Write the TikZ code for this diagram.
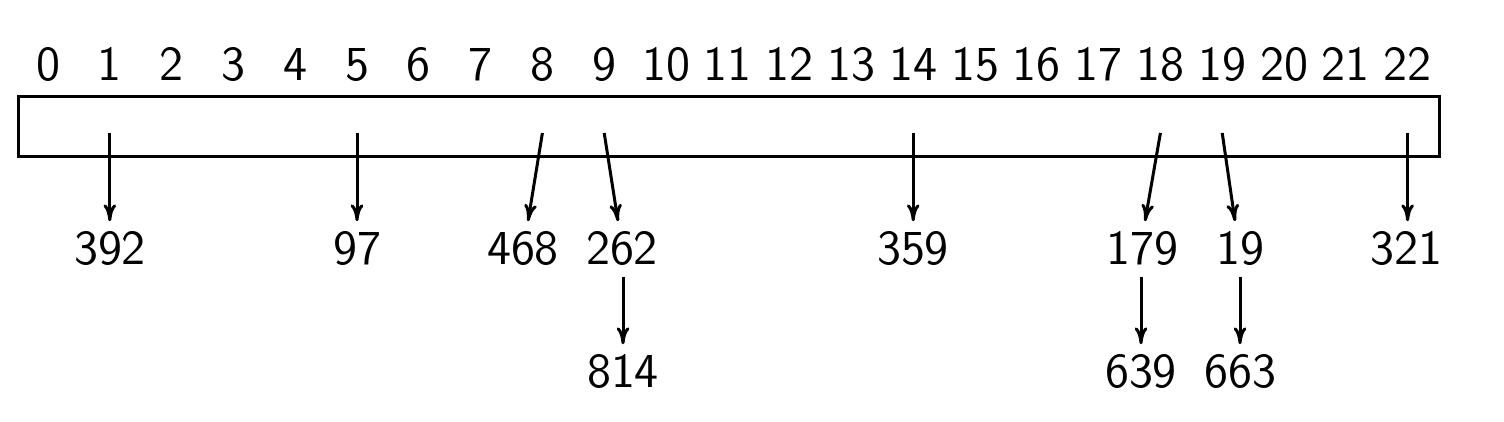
\documentclass[tikz,border=0pt]{standalone}
\usepackage{fontspec}
\setsansfont{Latin Modern Sans}
\usetikzlibrary{arrows.meta}
\renewcommand{\familydefault}{\sfdefault}
\begin{document}
\begin{tikzpicture}[x=0.01cm,y=-0.01cm,
  lw/.style={line width=0.03cm},
  idx/.style={anchor=base,inner sep=0pt,font=\fontsize{13.9}{16}\selectfont},
  lab/.style={anchor=base,inner sep=0.1cm,font=\fontsize{13.9}{16}\selectfont},
  arr/.style={lw,-{To[length=4.8pt,width=3.6pt]}}]
\useasboundingbox (0,0) rectangle (1504,422);
% index labels
\foreach \i in {0,...,22}{
  \node[idx] (i\i) at ({48+\i*61.8},81) {\i};
}
% box
\node[lw,draw,minimum width=14.2cm,minimum height=0.6cm,inner sep=0pt,anchor=north west] (box) at (17,95) {};
% start points inside box
\foreach \i in {1,5,8,9,14,18,19,22}{
  \coordinate (s\i) at ({48+\i*61.8},133);
}
% first row labels
\node[lab] (a1) at (110,265) {392};
\node[lab] (a5) at (357,265) {97};
\node[lab] (a8) at (523,265) {468};
\node[lab] (a9) at (622,265) {262};
\node[lab] (a14) at (913,265) {359};
\node[lab] (a18) at (1142,265) {179};
\node[lab] (a19) at (1240,265) {19};
\node[lab] (a22) at (1406,265) {321};
% second row
\node[lab] (b9) at (623,388) {814};
\node[lab] (b18) at (1141,388) {639};
\node[lab] (b19) at (1240,388) {663};
% arrows
\draw[arr] (s1) -- (s1 |- a1.north);
\draw[arr] (s5) -- (s5 |- a5.north);
\draw[arr] (s8) -- ([xshift=0.05cm]a8.north);
\draw[arr] (s9) -- ([xshift=-0.04cm]a9.north);
\draw[arr] (s14) -- (s14 |- a14.north);
\draw[arr] (s18) -- ([xshift=0.03cm]a18.north);
\draw[arr] (s19) -- ([xshift=-0.05cm]a19.north);
\draw[arr] (s22) -- (s22 |- a22.north);
\draw[arr] (b9.north |- a9.south) -- (b9.north);
\draw[arr] (b18.north |- a18.south) -- (b18.north);
\draw[arr] (b19.north |- a19.south) -- (b19.north);
\end{tikzpicture}
\end{document}
